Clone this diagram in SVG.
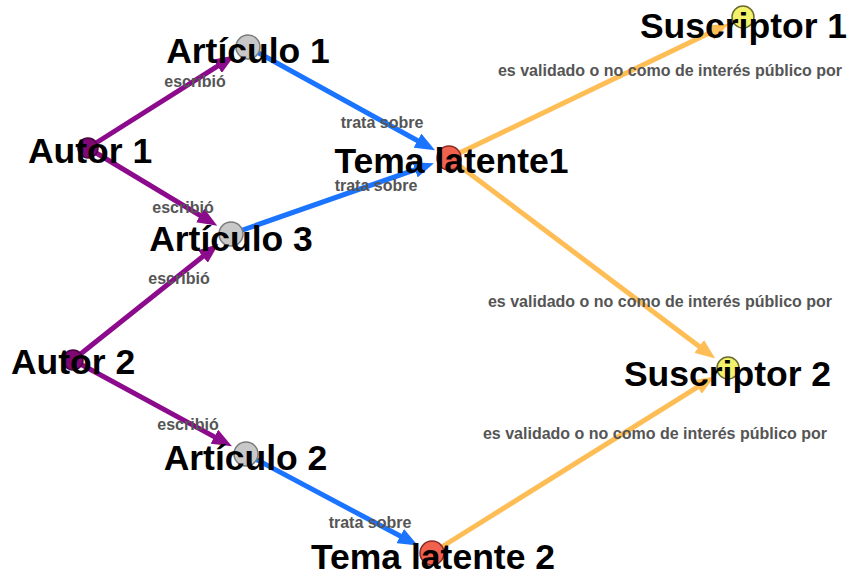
<svg xmlns="http://www.w3.org/2000/svg" width="849" height="573" viewBox="0 0 849 573">
<style>
.e{stroke-width:5;fill:none}
.ep{stroke:#8c0a8c}
.eb{stroke:#1a74ff}
.eo{stroke:#ffbd55}
.el{font-family:"Liberation Sans",Arial,sans-serif;font-weight:bold;font-size:16px;fill:#555;text-anchor:middle}
.nl{font-family:"Liberation Sans",Arial,sans-serif;font-weight:bold;font-size:35.5px;fill:#000;text-anchor:middle}
.au{fill:#800872;stroke:#4a0440;stroke-width:1.5}
.ar{fill:#c8c8c8;stroke:#7a7a7a;stroke-width:1.5}
.tm{fill:#f0614e;stroke:#8a2a20;stroke-width:1.5}
.su{fill:#f3f36b;stroke:#6a6a30;stroke-width:1.5}
</style>
<defs>
<marker id="mp" viewBox="0 0 20 16" refX="8" refY="8" markerWidth="20" markerHeight="16" markerUnits="userSpaceOnUse" orient="auto"><path d="M0,0 L20,8 L0,16 z" fill="#8c0a8c"/></marker>
<marker id="mb" viewBox="0 0 20 16" refX="8" refY="8" markerWidth="20" markerHeight="16" markerUnits="userSpaceOnUse" orient="auto"><path d="M0,0 L20,8 L0,16 z" fill="#1a74ff"/></marker>
<marker id="mo" viewBox="0 0 20 16" refX="8" refY="8" markerWidth="20" markerHeight="16" markerUnits="userSpaceOnUse" orient="auto"><path d="M0,0 L20,8 L0,16 z" fill="#ffbd55"/></marker>
</defs>
<g id="connectors">
<line class="e ep" x1="88" y1="148" x2="224.3" y2="61.9" marker-end="url(#mp)"/>
<line class="e ep" x1="88" y1="148" x2="207.0" y2="219.6" marker-end="url(#mp)"/>
<line class="e ep" x1="73" y1="360" x2="209.1" y2="251.5" marker-end="url(#mp)"/>
<line class="e ep" x1="73" y1="360" x2="221.4" y2="440.6" marker-end="url(#mp)"/>
<line class="e eb" x1="248" y1="47" x2="424.5" y2="144.5" marker-end="url(#mb)"/>
<line class="e eb" x1="231" y1="234" x2="422.6" y2="167.2" marker-end="url(#mb)"/>
<line class="e eb" x1="246" y1="454" x2="407.3" y2="539.8" marker-end="url(#mb)"/>
<line class="e eo" x1="449" y1="158" x2="717.8" y2="29.1" marker-end="url(#mo)"/>
<line class="e eo" x1="449" y1="158" x2="705.6" y2="351.2" marker-end="url(#mo)"/>
<line class="e eo" x1="432" y1="553" x2="704.3" y2="382.8" marker-end="url(#mo)"/>
<text class="el" x="195" y="87">escribió</text>
<text class="el" x="183" y="213">escribió</text>
<text class="el" x="179" y="284">escribió</text>
<text class="el" x="188" y="430">escribió</text>
<text class="el" x="382" y="128">trata sobre</text>
<text class="el" x="376" y="191">trata sobre</text>
<text class="el" x="370" y="528">trata sobre</text>
<text class="el" x="670" y="76">es validado o no como de interés público por</text>
<text class="el" x="660" y="307">es validado o no como de interés público por</text>
<text class="el" x="655" y="439">es validado o no como de interés público por</text>
</g>
<g id="autor1"><circle class="au" cx="88" cy="148" r="10"/><text class="nl" x="90" y="163">Autor 1</text></g>
<g id="autor2"><circle class="au" cx="73" cy="360" r="10"/><text class="nl" x="73" y="374">Autor 2</text></g>
<g id="articulo1"><circle class="ar" cx="248" cy="47" r="12"/><text class="nl" x="248" y="63">Artículo 1</text></g>
<g id="articulo3"><circle class="ar" cx="231" cy="234" r="12"/><text class="nl" x="231" y="251">Artículo 3</text></g>
<g id="articulo2"><circle class="ar" cx="246" cy="454" r="12"/><text class="nl" x="245.5" y="470">Artículo 2</text></g>
<g id="tema1"><circle class="tm" cx="449" cy="158" r="12"/><text class="nl" x="451.5" y="173">Tema latente1</text></g>
<g id="tema2"><circle class="tm" cx="432" cy="553" r="12"/><text class="nl" x="433" y="569">Tema latente 2</text></g>
<g id="suscriptor1"><circle class="su" cx="743" cy="17" r="11"/><text class="nl" x="743.5" y="38">Suscriptor 1</text></g>
<g id="suscriptor2"><circle class="su" cx="728" cy="368" r="11"/><text class="nl" x="727.5" y="386">Suscriptor 2</text></g>
</svg>
